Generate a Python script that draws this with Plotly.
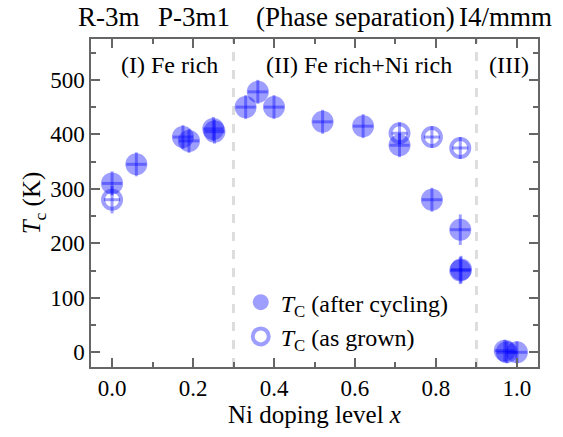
import plotly.graph_objects as go

# After cycling (filled)
x_cyc = [0.0, 0.06, 0.175, 0.19, 0.25, 0.253, 0.33, 0.36, 0.40, 0.52, 0.62, 0.71, 0.79, 0.86, 0.86, 0.862, 0.97, 0.975, 1.0]
t_cyc = [310, 345, 395, 388, 410, 405, 450, 478, 450, 423, 415, 380, 280, 225, 150, 152, 3, 0, 0]
xerr_cyc = [0.025] * len(x_cyc)
terr_cyc = [22, 22, 22, 22, 22, 22, 22, 22, 22, 22, 22, 22, 22, 28, 25, 25, 20, 20, 20]

# As grown (open)
x_grown = [0.0, 0.71, 0.79, 0.86]
t_grown = [280, 402, 395, 375]
xerr_grown = [0.02] * len(x_grown)
terr_grown = [25, 20, 20, 20]

dividers = [0.3, 0.9]
top_labels = ["R-3m", "P-3m1", "(Phase separation)", "I4/mmm"]
top_label_px = [109, 194, 355, 505]
region_labels = ["(I) Fe rich", "(II) Fe rich+Ni rich", "(III)"]
region_label_x = [0.143, 0.61, 0.98]

col = "rgba(0,0,255,0.38)"
font = "Liberation Serif"

fig = go.Figure()
fig.add_trace(go.Scatter(
    x=x_cyc, y=t_cyc, mode="markers",
    name="<i>T</i><sub>C</sub> (after cycling)",
    marker=dict(symbol="circle", size=22, color=col, line=dict(width=0)),
    error_x=dict(type="data", array=xerr_cyc, color=col, thickness=3, width=0),
    error_y=dict(type="data", array=terr_cyc, color=col, thickness=3, width=0),
))
fig.add_trace(go.Scatter(
    x=x_grown, y=t_grown, mode="markers",
    name="<i>T</i><sub>C</sub> (as grown)",
    marker=dict(symbol="circle-open", size=18, color=col, line=dict(width=4, color=col)),
    error_x=dict(type="data", array=xerr_grown, color=col, thickness=3, width=0),
    error_y=dict(type="data", array=terr_grown, color=col, thickness=3, width=0),
))

for d in dividers:
    fig.add_shape(type="line", x0=d, x1=d, xref="x", y0=0, y1=1, yref="paper",
                  line=dict(color="#dddddd", width=3, dash="dash"), layer="below")

L, R, T, B = 91, 25, 39, 70
W, H = 563, 437
pw, ph = W - L - R, H - T - B

for txt, xpix in zip(top_labels, top_label_px):
    fig.add_annotation(text=txt, x=(xpix - L) / pw, y=1 + (T - 17) / ph, xref="paper", yref="paper",
                       xanchor="center", yanchor="middle", showarrow=False,
                       font=dict(size=27, color="black", family=font))

for txt, xv in zip(region_labels, region_label_x):
    fig.add_annotation(text=txt, x=xv, y=(H - B - 65) / ph, xref="x", yref="paper",
                       xanchor="center", yanchor="middle", showarrow=False,
                       font=dict(size=24, color="black", family=font))

axis_common = dict(showline=True, linecolor="#666666", linewidth=1.5, mirror="ticks",
                   ticks="inside", ticklen=9, tickcolor="#666666", tickwidth=1.5,
                   showgrid=False, zeroline=False, automargin=False,
                   tickfont=dict(size=23, color="black", family=font))

fig.update_xaxes(range=[-0.052, 1.052], tickvals=[0, 0.2, 0.4, 0.6, 0.8, 1.0],
                 ticktext=["0.0", "0.2", "0.4", "0.6", "0.8", "1.0"],
                 minor=dict(dtick=0.1, tick0=0, ticks="inside", ticklen=5, tickcolor="#666666", tickwidth=1.5),
                 title=dict(text="Ni doping level <i>x</i>", font=dict(size=25, color="black", family=font), standoff=4),
                 **axis_common)
fig.update_yaxes(range=[-27, 575], tickvals=[0, 100, 200, 300, 400, 500],
                 minor=dict(dtick=50, tick0=0, ticks="inside", ticklen=5, tickcolor="#666666", tickwidth=1.5),
                 title=dict(text="<i>T</i><sub>c</sub> (K)", font=dict(size=25, color="black", family=font), standoff=2),
                 **axis_common)

fig.update_layout(
    width=W, height=H,
    margin=dict(l=L, r=R, t=T, b=B),
    plot_bgcolor="white", paper_bgcolor="white",
    font=dict(family=font, size=23, color="black"),
    legend=dict(x=0.335, y=0.265, xanchor="left", yanchor="top", bgcolor="rgba(0,0,0,0)",
                font=dict(size=24, family=font, color="black"), itemsizing="trace",
                tracegroupgap=0),
    showlegend=True,
)

fig.write_html("out.html", config={"displayModeBar": False},
               post_script="document.body.style.margin='0';document.body.style.padding='0';")
